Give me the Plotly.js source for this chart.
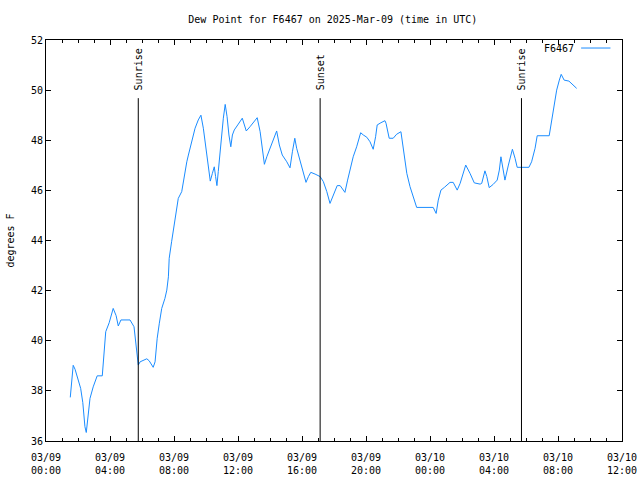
<!DOCTYPE html>
<html>
<head>
<meta charset="utf-8">
<script src="https://cdn.plot.ly/plotly-3.0.1.min.js"></script>
<style>html,body{margin:0;padding:0;background:#fff;}#chart{width:640px;height:480px;}</style>
</head>
<body>
<div id="chart"></div>
<script>
// Observation times (UTC)
const times = [
"2025-03-09 01:31","2025-03-09 01:42","2025-03-09 01:49","2025-03-09 02:01","2025-03-09 02:10","2025-03-09 02:18",
"2025-03-09 02:26","2025-03-09 02:31","2025-03-09 02:38","2025-03-09 02:45","2025-03-09 02:57","2025-03-09 03:12",
"2025-03-09 03:31","2025-03-09 03:38","2025-03-09 03:44","2025-03-09 03:57","2025-03-09 04:12","2025-03-09 04:23",
"2025-03-09 04:31","2025-03-09 04:41","2025-03-09 05:15","2025-03-09 05:30","2025-03-09 05:42","2025-03-09 05:46",
"2025-03-09 05:53","2025-03-09 06:18","2025-03-09 06:27","2025-03-09 06:42","2025-03-09 06:49","2025-03-09 06:57",
"2025-03-09 07:05","2025-03-09 07:14","2025-03-09 07:26","2025-03-09 07:33","2025-03-09 07:39","2025-03-09 07:42",
"2025-03-09 07:51","2025-03-09 07:57","2025-03-09 08:04","2025-03-09 08:10","2025-03-09 08:16","2025-03-09 08:29",
"2025-03-09 08:35","2025-03-09 08:41","2025-03-09 08:48","2025-03-09 08:54","2025-03-09 09:06","2025-03-09 09:19",
"2025-03-09 09:31","2025-03-09 09:41","2025-03-09 09:50","2025-03-09 09:59","2025-03-09 10:06","2025-03-09 10:11",
"2025-03-09 10:16","2025-03-09 10:24","2025-03-09 10:31","2025-03-09 10:36","2025-03-09 10:41","2025-03-09 10:46",
"2025-03-09 10:53","2025-03-09 10:59","2025-03-09 11:05","2025-03-09 11:12","2025-03-09 11:19","2025-03-09 11:26",
"2025-03-09 11:33","2025-03-09 11:39","2025-03-09 11:46","2025-03-09 11:59","2025-03-09 12:16","2025-03-09 12:24",
"2025-03-09 12:31","2025-03-09 12:45","2025-03-09 13:01","2025-03-09 13:12","2025-03-09 13:23","2025-03-09 13:39",
"2025-03-09 13:48","2025-03-09 14:06","2025-03-09 14:25","2025-03-09 14:35","2025-03-09 14:46","2025-03-09 15:03",
"2025-03-09 15:15","2025-03-09 15:24","2025-03-09 15:33","2025-03-09 15:40","2025-03-09 15:53","2025-03-09 16:05",
"2025-03-09 16:15","2025-03-09 16:24","2025-03-09 16:33","2025-03-09 16:49","2025-03-09 17:08","2025-03-09 17:20",
"2025-03-09 17:33","2025-03-09 17:45","2025-03-09 17:55","2025-03-09 18:12","2025-03-09 18:23","2025-03-09 18:41",
"2025-03-09 18:51","2025-03-09 19:00","2025-03-09 19:12","2025-03-09 19:25","2025-03-09 19:40","2025-03-09 19:50",
"2025-03-09 20:03","2025-03-09 20:15","2025-03-09 20:27","2025-03-09 20:36","2025-03-09 20:42","2025-03-09 20:56",
"2025-03-09 21:11","2025-03-09 21:15","2025-03-09 21:27","2025-03-09 21:42","2025-03-09 21:55","2025-03-09 22:11",
"2025-03-09 22:16","2025-03-09 22:24","2025-03-09 22:33","2025-03-09 22:45","2025-03-09 22:57","2025-03-09 23:10",
"2025-03-10 00:12","2025-03-10 00:23","2025-03-10 00:31","2025-03-10 00:41","2025-03-10 00:54","2025-03-10 01:15",
"2025-03-10 01:27","2025-03-10 01:42","2025-03-10 01:53","2025-03-10 02:14","2025-03-10 02:30","2025-03-10 02:46",
"2025-03-10 03:08","2025-03-10 03:14","2025-03-10 03:26","2025-03-10 03:33","2025-03-10 03:42","2025-03-10 03:57",
"2025-03-10 04:12","2025-03-10 04:20","2025-03-10 04:26","2025-03-10 04:35","2025-03-10 04:41","2025-03-10 04:54",
"2025-03-10 05:03","2025-03-10 05:09","2025-03-10 05:19","2025-03-10 05:27","2025-03-10 06:11","2025-03-10 06:21",
"2025-03-10 06:34","2025-03-10 06:42","2025-03-10 07:27","2025-03-10 07:33","2025-03-10 07:42","2025-03-10 07:55",
"2025-03-10 08:05","2025-03-10 08:12","2025-03-10 08:23","2025-03-10 08:41","2025-03-10 09:10"
];
// Dew point (degrees F)
const dewPoint = [
37.74,39.02,38.86,38.43,38.10,37.53,
36.57,36.34,37.00,37.70,38.16,38.60,
38.60,39.47,40.36,40.72,41.29,41.00,
40.59,40.83,40.83,40.56,39.52,39.03,
39.16,39.28,39.20,38.94,39.16,40.10,
40.70,41.29,41.69,42.02,42.55,43.29,
43.95,44.35,44.75,45.28,45.68,45.95,
46.35,46.75,47.14,47.41,47.94,48.48,
48.81,49.00,48.48,47.81,47.14,46.75,
46.37,46.68,46.94,46.55,46.19,46.75,
47.54,48.34,48.88,49.43,48.94,48.21,
47.74,48.21,48.41,48.61,48.88,48.61,
48.37,48.54,48.77,48.90,48.34,47.04,
47.34,47.81,48.37,47.81,47.41,47.14,
46.90,47.54,48.08,47.68,47.14,46.68,
46.32,46.55,46.72,46.65,46.55,46.35,
45.95,45.48,45.75,46.19,46.19,45.92,
46.41,46.81,47.34,47.74,48.30,48.21,
48.12,47.94,47.64,48.14,48.61,48.70,
48.78,48.68,48.08,48.08,48.24,48.34,
48.00,47.34,46.68,46.15,45.75,45.32,
45.32,45.08,45.61,46.01,46.12,46.32,
46.32,46.01,46.28,47.01,46.68,46.30,
46.25,46.28,46.78,46.55,46.11,46.24,
46.41,46.81,47.34,46.75,46.41,47.01,
47.34,47.64,47.28,46.92,46.92,47.14,
47.68,48.18,48.18,48.61,49.27,50.00,
50.40,50.63,50.40,50.36,50.07
];
const seriesName = "F6467";
// Sun events
const eventTimes = ["2025-03-09 05:46","2025-03-09 17:08","2025-03-10 05:43"];
const eventLabels = ["Sunrise","Sunset","Sunrise"];
// Axis ticks
const xTickVals = ["2025-03-09 00:00","2025-03-09 04:00","2025-03-09 08:00","2025-03-09 12:00","2025-03-09 16:00",
                   "2025-03-09 20:00","2025-03-10 00:00","2025-03-10 04:00","2025-03-10 08:00","2025-03-10 12:00"];
const xTickText = ["03/09<br>00:00","03/09<br>04:00","03/09<br>08:00","03/09<br>12:00","03/09<br>16:00",
                   "03/09<br>20:00","03/10<br>00:00","03/10<br>04:00","03/10<br>08:00","03/10<br>12:00"];
const yTickVals = [36,38,40,42,44,46,48,50,52];

const FONT = "DejaVu Sans Mono";
const LINE_COLOR = "#1a8cff";

const traces = [{
  x: times, y: dewPoint, type: "scatter", mode: "lines", name: seriesName,
  line: {color: LINE_COLOR, width: 1}, showlegend: false, hoverinfo: "skip"
}];

const shapes = eventTimes.map(t => ({
  type: "line", xref: "x", yref: "paper", x0: t, x1: t, y0: 0, y1: 0.855,
  line: {color: "#000", width: 1}
}));
// legend sample line
shapes.push({type: "line", xref: "paper", yref: "paper", x0: 0.929, x1: 0.98, y0: 0.98, y1: 0.98,
  line: {color: LINE_COLOR, width: 1}});

const annotations = eventTimes.map((t, i) => ({
  x: t, xref: "x", y: 0.87, yref: "paper", text: eventLabels[i], textangle: -90,
  showarrow: false, xanchor: "center", yanchor: "bottom",
  font: {family: FONT, size: 10, color: "#000"}
}));
annotations.push({x: 0.92, xref: "paper", y: 0.98, yref: "paper", text: seriesName, showarrow: false,
  xanchor: "right", yanchor: "middle", font: {family: FONT, size: 10, color: "#000"}});

const layout = {
  width: 640, height: 480,
  margin: {l: 46, r: 18, t: 40, b: 39, pad: 0},
  paper_bgcolor: "#fff", plot_bgcolor: "#fff",
  font: {family: FONT, size: 10, color: "#000"},
  title: {text: "Dew Point for F6467 on 2025-Mar-09 (time in UTC)", x: 0.52, xanchor: "center",
          y: 0.96, yref: "container", yanchor: "middle", font: {family: FONT, size: 10, color: "#000"}},
  xaxis: {
    type: "date", range: ["2025-03-09 00:00", "2025-03-10 12:00"],
    tickmode: "array", tickvals: xTickVals, ticktext: xTickText,
    ticks: "inside", ticklen: 5, tickcolor: "#000", tickwidth: 1, ticklabelstandoff: 7,
    minor: {dtick: 3600000, ticks: "inside", ticklen: 3, tickcolor: "#000", showgrid: false},
    showline: true, linecolor: "#000", linewidth: 1, mirror: "ticks",
    showgrid: false, zeroline: false, tickfont: {family: FONT, size: 10, color: "#000"}
  },
  yaxis: {
    range: [36, 52], tickmode: "array", tickvals: yTickVals,
    ticks: "inside", ticklen: 5, tickcolor: "#000", tickwidth: 1,
    showline: true, linecolor: "#000", linewidth: 1, mirror: "ticks",
    showgrid: false, zeroline: false, tickfont: {family: FONT, size: 10, color: "#000"},
    title: {text: "degrees F", standoff: 14, font: {family: FONT, size: 10, color: "#000"}}
  },
  shapes: shapes, annotations: annotations, showlegend: false
};

Plotly.newPlot("chart", traces, layout, {staticPlot: true, displayModeBar: false});
</script>
</body>
</html>
